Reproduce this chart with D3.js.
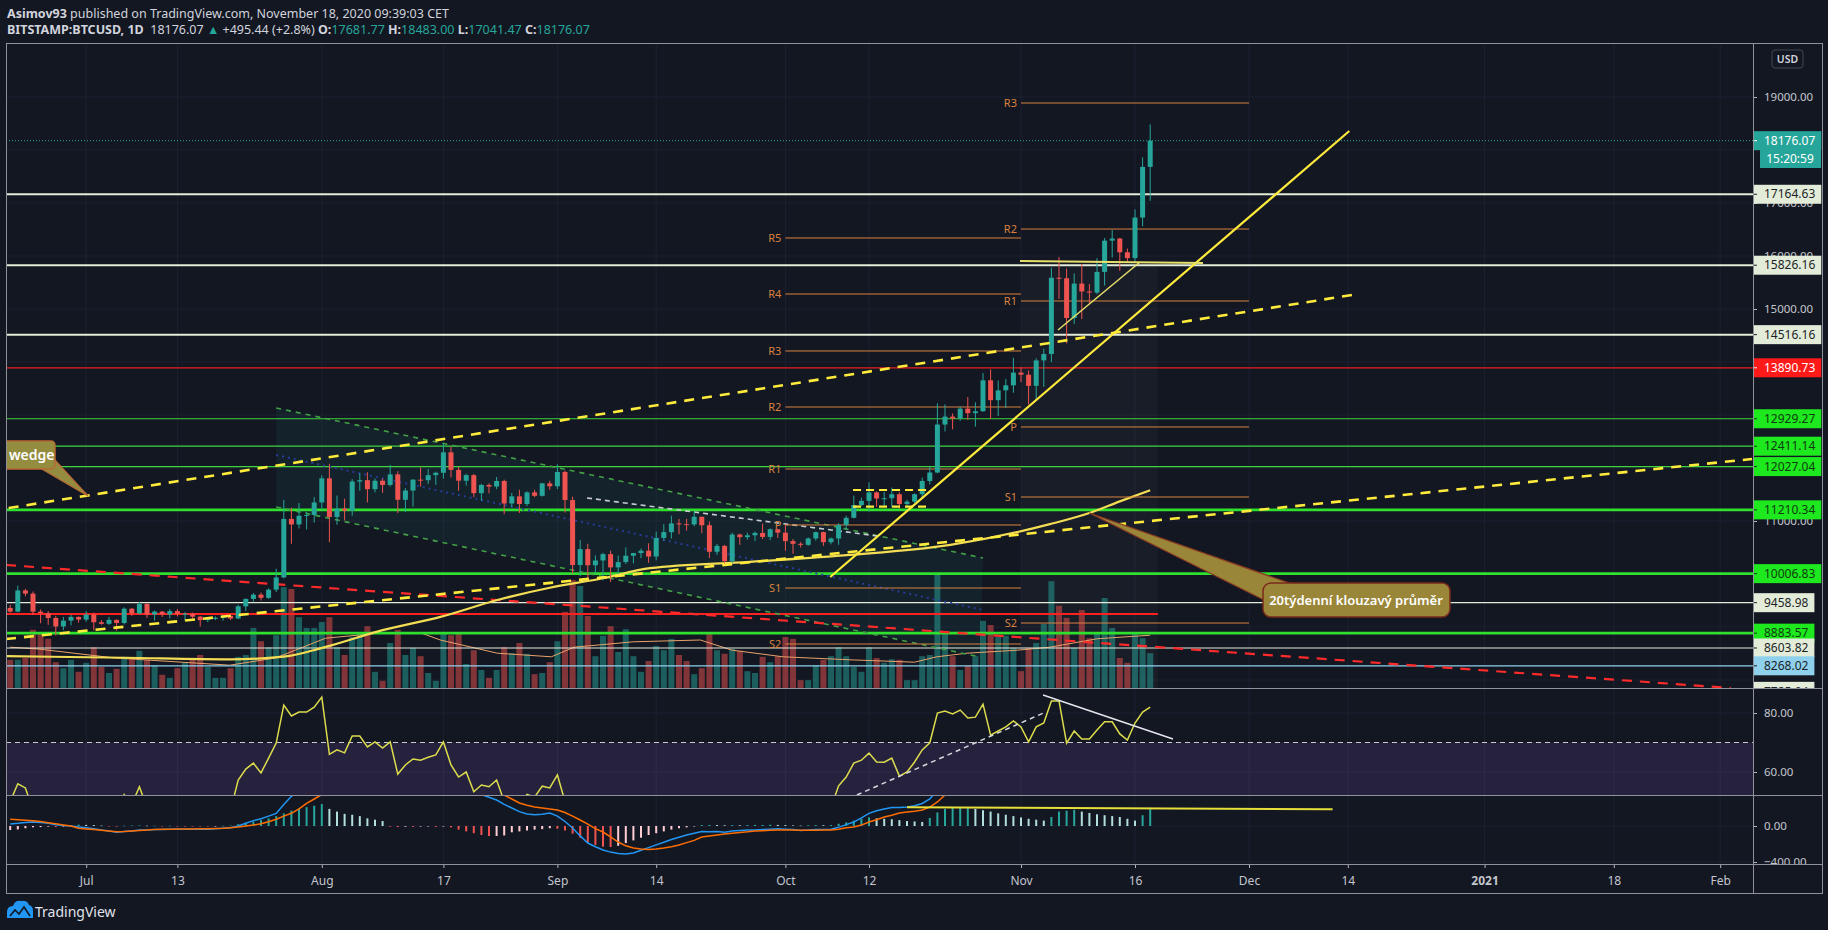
<!DOCTYPE html>
<html>
<head>
<meta charset="utf-8">
<title>BITSTAMP:BTCUSD 1D</title>
<script src="https://cdn.jsdelivr.net/npm/d3@7"></script>
<style>
  html, body { margin: 0; padding: 0; background: #131722; overflow: hidden; }
  svg { display: block; font-family: "Noto Sans", "Open Sans", sans-serif; }
  text { white-space: pre; }
</style>
</head>
<body>
<svg id="chart" width="1828" height="930"></svg>
<script>
// ---------------- data (daily candles from 2020-06-21 to 2020-11-18) ----------------
const firstDay = "2020-06-21";

const opens = [
  9360, 9290, 9690, 9630, 9290, 9260, 9170, 9010, 9120, 9190,
  9140, 9235, 9090, 9060, 9135, 9075, 9345, 9255, 9435, 9235, 9290, 9235, 9300, 9245, 9250, 9195, 9130, 9155, 9175, 9210, 9160, 9390, 9530, 9610, 9550, 9705, 9935, 11040, 10935, 11100, 11115,
  11350, 11805, 11075, 11235, 11195, 11745, 11770, 11600, 11760, 11680, 11880, 11400, 11575, 11780, 11770, 11865, 11910, 12295, 11965, 11760, 11865, 11525, 11680, 11650, 11755, 11330, 11465, 11320, 11540, 11475, 11710,
  11655, 11925, 11395, 10170, 10470, 10165, 10255, 10375, 10125, 10225, 10345, 10395, 10440, 10330, 10680, 10790, 10955, 10940, 10935, 11080, 10920, 10420, 10530, 10240, 10745, 10695, 10730, 10775, 10700, 10845,
  10780, 10620, 10570, 10550, 10670, 10790, 10600, 10670, 10925, 11060, 11300, 11380, 11540, 11425, 11430, 11505, 11320, 11365, 11505, 11755, 11915, 12820, 12970, 12935, 13120, 13035, 13070, 13655, 13280, 13465, 13560,
  13800, 13760, 13550, 14030, 14150, 15590, 15580, 14830, 15480, 15330, 15310, 15700, 16290, 16330, 16070, 15960, 16725, 17681.77
];
const highs = [
  9420, 9780, 9720, 9670, 9330, 9300, 9210, 9190, 9230, 9200,
  9300, 9270, 9130, 9190, 9140, 9370, 9360, 9470, 9450, 9310, 9300, 9340, 9340, 9280, 9270, 9210, 9190, 9200, 9230, 9220, 9420, 9540, 9640, 9650, 9730, 10100, 11400, 11250, 11340, 11170, 11450,
  11860, 12080, 11480, 11420, 11790, 11900, 11920, 11800, 11800, 12060, 11940, 11620, 11790, 12010, 11980, 11930, 12470, 12400, 12020, 11890, 11890, 11700, 11710, 11830, 11780, 11530, 11590, 11560, 11590, 11720, 11760,
  12070, 11950, 11460, 10640, 10570, 10350, 10400, 10440, 10350, 10500, 10400, 10480, 10580, 10800, 10940, 11100, 11040, 11040, 11180, 11080, 10990, 10570, 10550, 10780, 10760, 10780, 10800, 10950, 10860, 10850,
  10930, 10660, 10600, 10690, 10800, 10800, 10690, 10960, 11100, 11480, 11440, 11730, 11560, 11550, 11630, 11540, 11400, 11520, 11820, 12020, 13220, 13200, 13030, 13160, 13340, 13240, 13790, 13860, 13650, 13680, 14080,
  13900, 13840, 14070, 14250, 15780, 15980, 15760, 15670, 15850, 15470, 15960, 16340, 16490, 16340, 16140, 16880, 17860, 18483.00
];
const lows = [
  9270, 9280, 9580, 9230, 9070, 9040, 8840, 8940, 9030, 9080,
  9100, 8940, 9040, 9040, 8930, 9050, 9210, 9240, 9170, 9120, 9190, 9160, 9200, 9120, 9160, 9010, 9090, 9130, 9120, 9130, 9150, 9300, 9480, 9500, 9530, 9660, 9920, 10570, 10860, 10840, 10970,
  11220, 10600, 10930, 11010, 11100, 11570, 11350, 11540, 11530, 11650, 11150, 11170, 11270, 11650, 11700, 11680, 11800, 11820, 11570, 11670, 11450, 11380, 11520, 11600, 11130, 11260, 11150, 11280, 11450, 11460, 11590,
  11600, 11160, 10000, 9960, 9880, 10010, 9880, 9850, 10000, 10190, 10200, 10300, 10210, 10260, 10630, 10670, 10750, 10820, 10900, 10770, 10300, 10360, 10150, 10200, 10550, 10650, 10620, 10660, 10640, 10680,
  10440, 10380, 10500, 10530, 10630, 10530, 10560, 10550, 10830, 11050, 11280, 11180, 11270, 11280, 11260, 11230, 11290, 11340, 11420, 11690, 11900, 12690, 12730, 12890, 12910, 12780, 13060, 12930, 12980, 13130, 13420,
  13620, 13200, 13300, 13530, 14000, 15190, 14350, 14720, 14810, 15100, 15280, 15440, 15970, 15720, 15870, 15880, 16560, 17041.47
];
const closes = [
  9290, 9690, 9630, 9290, 9260, 9170, 9010, 9120, 9190, 9140,
  9235, 9090, 9060, 9135, 9075, 9345, 9255, 9435, 9235, 9290, 9235, 9300, 9245, 9250, 9195, 9130, 9155, 9175, 9210, 9160, 9390, 9530, 9610, 9550, 9705, 9935, 11040, 10935, 11100, 11115, 11350,
  11805, 11075, 11235, 11195, 11745, 11770, 11600, 11760, 11680, 11880, 11400, 11575, 11780, 11770, 11865, 11910, 12295, 11965, 11760, 11865, 11525, 11680, 11650, 11755, 11330, 11465, 11320, 11540, 11475, 11710, 11655,
  11925, 11395, 10170, 10470, 10165, 10255, 10375, 10125, 10225, 10345, 10395, 10440, 10330, 10680, 10790, 10955, 10940, 10935, 11080, 10920, 10420, 10530, 10240, 10745, 10695, 10730, 10775, 10700, 10845, 10780,
  10620, 10570, 10550, 10670, 10790, 10600, 10670, 10925, 11060, 11300, 11380, 11540, 11425, 11430, 11505, 11320, 11365, 11505, 11755, 11915, 12820, 12970, 12935, 13120, 13035, 13070, 13655, 13280, 13465, 13560, 13800,
  13760, 13550, 14030, 14150, 15590, 15580, 14830, 15480, 15330, 15310, 15700, 16290, 16330, 16070, 15960, 16725, 17681.77, 18176.07
];
// volume, thousands of BTC
const volumes = [
  4.7, 4.7, 5.0, 9.7, 9.2, 8.2, 4.3, 3.3, 4.7, 2.7,
  4.2, 6.8, 3.5, 2.5, 3.2, 5.2, 5.0, 6.2, 4.7, 3.8, 2.2, 1.7, 3.3, 4.2, 4.8, 5.5, 3.5, 1.7, 1.7, 3.3, 5.2, 5.5, 10.0, 7.8, 6.8, 8.8, 16.8, 16.5, 11.8, 10.0, 10.0,
  11.0, 11.8, 6.8, 5.5, 8.5, 9.2, 10.3, 2.7, 1.2, 7.5, 9.7, 5.5, 6.7, 5.3, 2.5, 1.2, 9.2, 8.8, 9.2, 4.0, 6.3, 3.0, 1.7, 3.0, 6.8, 5.8, 7.5, 5.7, 2.3, 2.5, 4.3,
  7.8, 12.7, 18.0, 17.0, 12.0, 5.3, 8.7, 10.3, 6.0, 9.8, 5.3, 2.7, 4.5, 7.0, 6.3, 8.2, 5.5, 4.5, 2.3, 3.3, 9.3, 6.3, 5.7, 6.5, 6.2, 2.8, 2.5, 5.2, 4.3, 5.3,
  8.5, 8.2, 1.3, 1.3, 3.8, 4.7, 5.3, 6.8, 5.3, 3.5, 2.7, 6.8, 5.0, 4.2, 4.8, 4.7, 1.3, 1.3, 5.3, 5.5, 19.2, 9.2, 5.3, 3.0, 3.7, 5.3, 11.2, 10.5, 8.5, 8.7, 6.7,
  2.8, 6.7, 7.5, 10.7, 17.8, 13.7, 11.7, 6.7, 13.0, 8.3, 9.2, 15.0, 10.0, 5.0, 4.2, 9.2, 8.3, 5.8
];
const rsi = [
  50, 56, 54.6, 47, 46, 44, 41, 44, 46, 45,
  47, 44, 43, 46, 44, 52.3, 49, 55, 48, 50, 48, 51, 49, 49, 47, 45, 46, 47, 48, 47, 57.3, 61, 63, 59.7, 64.7, 69.8, 82.7, 79, 80.3, 80.3, 82,
  85.4, 66, 67.5, 66.5, 72.2, 72.2, 68.5, 70.2, 68.1, 70.2, 59.3, 62.4, 64.4, 64, 65, 65.8, 70.2, 62.4, 58.3, 60, 53.3, 55.6, 55, 57.3, 50, 51.5, 49, 52.4, 51.5, 55.2, 54.6,
  59, 50, 36, 41, 37, 39, 41, 38, 40, 42, 43, 44, 43, 48, 49, 51, 51, 51, 51, 49, 43, 45, 42, 48, 47, 48, 48, 47, 49, 48,
  46, 45, 45, 47, 49, 46, 48, 55.3, 58.3, 63, 64, 66.4, 63.4, 63.3, 64.7, 58.6, 60, 63.4, 67.5, 69.9, 80, 80.7, 79.7, 81, 78.3, 78.6, 83, 72.5, 73.9, 75.3, 77.3,
  75.3, 70.2, 75.3, 76.6, 84.1, 84.1, 69.8, 73.9, 71.2, 71.2, 74.2, 77, 77, 72.9, 70.8, 76.6, 80.3, 82
];
const macd = [
  22, 30, 40, 44, 38, 30, 15, 5, 0, -10,
  -20, -30, -45, -55, -70, -60, -55, -45, -45, -40, -40, -35, -35, -35, -35, -35, -35, -30, -25, -20, 0, 30, 60, 80, 110, 140, 240, 330, 400, 450, 500,
  560, 560, 560, 550, 570, 580, 570, 570, 560, 560, 520, 500, 490, 480, 470, 470, 490, 480, 450, 430, 390, 350, 320, 289, 240, 200, 160, 133, 125, 130, 144,
  110, 50, -22, -110, -189, -230, -267, -290, -305, -311, -300, -270, -240, -210, -180, -150, -125, -100, -80, -60, -65, -60, -70, -55, -50, -45, -44, -40, -35, -30,
  -35, -40, -50, -45, -40, -40, -35, -15, 15, 44, 90, 140, 170, 190, 205, 205, 211, 225, 250, 300, 400, 480, 540, 590, 620, 640, 690, 700, 710, 720, 740,
  740, 720, 730, 740, 850, 940, 940, 960, 960, 950, 960, 1000, 1030, 1030, 1010, 1050, 1140, 1230
];
const signal = [
  74, 70, 65, 58, 50, 37, 25, 12, 0, -26,
  -32, -40, -48, -56, -63, -60, -55, -50, -45, -40, -37, -35, -34, -33, -32, -31, -30, -28, -25, -19,
  -12, 0, 11, 25, 48, 75, 110, 141, 190, 252, 300, 350,
  390, 420, 440, 460, 480, 495, 505, 512, 520, 520, 515, 510, 505, 500, 495, 495, 490, 480, 470, 450,
  420, 390, 360, 344, 300, 256, 230, 210, 200, 190,
  178, 150, 110, 67, 20, -30, -67, -120, -178,
  -220, -244, -255, -260, -255, -245, -230, -210, -185, -160, -122, -110, -100, -90, -80, -72, -65, -56, -52, -48, -45,
  -44, -44, -48, -47, -46, -45, -44,
  -35, -20, -11, 10, 44, 70, 100, 120, 144, 155, 165, 178, 210, 267, 344, 380,
  420, 470, 510, 550, 590, 620, 640, 660, 680, 690, 700, 710, 740, 780, 810, 840, 860, 880, 900, 920, 940, 960, 970, 980, 1000, 1030
];
const hist = [
  -45, -38, -25, -14, -12, -7, -10, -7, 3, 15,
  12, 10, 4, -2, -7, 3, 5, 6, 3, 3, -3,
  2, -1, -2, -3, -4, -5, -2, 3, 5,
  20, 35, 50, 65, 85, 110, 140, 170, 195, 210, 225, 244,
  190, 160, 135, 125, 110, 85, 70, 55,
  -8, -12, -8, -10, -6, -4, -10, -6, -15,
  -40, -60, -80, -100, -111, -111, -105,
  -70, -60, -50, -40, -35, -25,
  -30, -50, -85, -130, -180, -210, -230, -233, -220,
  -190, -160, -130, -100, -80, -60, -40, -25, -15, -5,
  10, 12, 10, 8, 10, 8, 10, 12, 12, 14, 12, 10, 6, 4, 8, 10, 8, 10,
  25, 40, 60, 80, 95, 85, 80, 75, 65, 55, 50, 45, 90, 150, 190, 200, 203, 205, 190, 175, 160, 140, 125, 110, 95, 80, 70, 60, 100, 160, 170, 180, 160, 145, 130, 120, 110, 100, 80, 60, 120, 200
];

// drawings: [days from 2020-11-01, value]
const sma20w = [[-133.5, 8450], [-118, 8420], [-104, 8390], [-97, 8440], [-91.6, 8620], [-84, 8940], [-76.4, 9190], [-68.9, 9510], [-62, 9740], [-55, 9920], [-48.8, 10110], [-35.7, 10230], [-22.5, 10360], [-9.3, 10550], [3.8, 10940], [9, 11150], [13, 11370], [17, 11580]];
const volumeMA = [[-133, 6.8], [-129.3, 6.5], [-119.2, 5.0], [-104.1, 3.8], [-98.1, 5.0], [-91.5, 8.3], [-84, 9.2], [-79, 9.2], [-76.4, 8.0], [-68.9, 5.8], [-61.8, 5.2], [-58.8, 6.8], [-51, 7.7], [-42.2, 8.0], [-38, 6.3], [-31.3, 5.2], [-22.5, 4.7], [-14, 4.3], [-11.1, 5.2], [-7.1, 5.8], [-0.5, 6.3], [3.8, 6.8], [10, 8.2], [17, 8.8]];
const wedgeUpper = [[-133.2, 11245], [43.55, 15264]];
const wedgeLower = [[-133.55, 8774], [96.2, 12170]];
const steepTrend = [[-25.1, 9943], [43.2, 18358]];
const novSupport = [[4.87, 14604], [15.66, 15887]];
const novShelf = [[-0.13, 15906], [23.95, 15868]];
const channelTop = [[-98, 13132], [-5, 10302]];
const channelBottom = [[-98, 11264], [-5.4, 8434]];
const channelMid = [[-98, 12245], [-5, 9321]];
const greyDash = [[-57.1, 11434], [-18.9, 10717]];
const redDash = [[-133.55, 10170], [93.4, 7849]];
const boxTop = [[-22.1, 11585], [-12, 11585]];
const boxBottom = [[-22.1, 11270], [-12, 11270]];
const redLevel = [[-134, 9245], [18, 9245]];
const novZone = [[0, 15826.16], [18, 7000]];
const rsiDash = [[-21.6, 52.2], [3.3, 80.4]];
const rsiLine = [[2.9, 86.1], [20, 71.2]];
const macdLine = [[-15, 208], [41, 185]];

const levelPrices = [17164.63, 15826.16, 14516.16, 13890.73, 12929.27, 12411.14, 12027.04, 11210.34, 10006.83, 9458.98, 8883.57, 8603.82, 8268.02, 7785.94];
const levelKinds = ["white", "white", "white", "red", "green", "green", "green", "greenBold", "greenBold", "whiteThin", "greenBold", "whiteThin", "blue", "whiteThin"];

const pivotOctNames = ["R5", "R4", "R3", "R2", "R1", "P", "S1", "S2"];
const pivotOctValues = [16340, 15283, 14208, 13151, 11981, 10925, 9736, 8679];
const pivotNovNames = ["R3", "R2", "R1", "P", "S1", "S2"];
const pivotNovValues = [18887, 16509, 15151, 12774, 11453, 9075];

const tickDates = ["2020-07-01", "2020-07-13", "2020-08-01", "2020-08-17", "2020-09-01", "2020-09-14", "2020-10-01", "2020-10-12", "2020-11-01", "2020-11-16", "2020-12-01", "2020-12-14", "2021-01-01", "2021-01-18", "2021-02-01"];
const tickLabels = ["Jul", "13", "Aug", "17", "Sep", "14", "Oct", "12", "Nov", "16", "Dec", "14", "2021", "18", "Feb"];
const priceGrid = [8000, 9000, 10000, 11000, 12000, 13000, 14000, 15000, 16000, 17000, 18000, 19000];
// price tick labels that are not covered by the level labels
const priceTicks = [11000, 15000, 16000, 17000, 19000];
const rsiTicks = [60, 80];
const macdTicks = [-400, 0];

// ---------------- layout ----------------
const paneLeft = 6, paneRight = 1753, axisRight = 1822;
const paneTop = 43, mainBottom = 688, rsiBottom = 795, macdBottom = 864, timeBottom = 893;
const up = "#26a69a", down = "#ef5350";

const levelStyle = {
  white:     { line: "#e3ecd9", width: 2,   bg: "#e3ecd9", fg: "#1c1f26" },
  whiteThin: { line: "#e3ecd9", width: 1.2, bg: "#e3ecd9", fg: "#1c1f26" },
  red:       { line: "#e8201e", width: 1.2, bg: "#ff1a1a", fg: "#ffffff" },
  green:     { line: "#3fd43f", width: 1.2, bg: "#1ee81e", fg: "#0f3d0f" },
  greenBold: { line: "#2fe02f", width: 2.6, bg: "#1ee81e", fg: "#0f3d0f" },
  blue:      { line: "#8fd0ec", width: 1.2, bg: "#8fd0ec", fg: "#1c1f26" }
};

const svg = d3.select("#chart");
const defs = svg.append("defs");
function clip(id, x0, y0, w, h) {
  defs.append("clipPath").attr("id", id)
    .append("rect").attr("x", x0).attr("y", y0).attr("width", w).attr("height", h);
}
clip("mainClip", paneLeft, paneTop, paneRight - paneLeft, mainBottom - paneTop);
clip("rsiClip", paneLeft, mainBottom, paneRight - paneLeft, rsiBottom - mainBottom);
clip("macdClip", paneLeft, rsiBottom, paneRight - paneLeft, macdBottom - rsiBottom);
clip("mainAxisClip", paneRight, paneTop, axisRight - paneRight, mainBottom - paneTop);
clip("macdAxisClip", paneRight, rsiBottom, axisRight - paneRight, macdBottom - rsiBottom);

const nov1 = new Date(Date.UTC(2020, 10, 1));
const x = d3.scaleUtc().domain([nov1, new Date(Date.UTC(2020, 11, 1))]).range([1021, 1249]);
const y = d3.scaleLinear().domain([11000, 19000]).range([521, 97]);
const yVol = d3.scaleLinear().domain([0, 20]).range([mainBottom, 568]);
const yRsi = d3.scaleLinear().domain([60, 80]).range([772, 713]);
const yMacd = d3.scaleLinear().domain([-400, 0]).range([862, 826]);

const at = d => new Date(nov1.getTime() + d * 864e5);
const start = new Date(firstDay + "T00:00:00Z");
const dates = closes.map((_, i) => d3.utcDay.offset(start, i));
const ticks = tickDates.map(s => new Date(s + "T00:00:00Z"));

const lineOf = (ys) => d3.line().x(p => x(at(p[0]))).y(p => ys(p[1]));

// ---------------- background & grid ----------------
svg.append("rect").attr("width", 1828).attr("height", 930).attr("fill", "#131722");

const grid = svg.append("g").attr("stroke", "#1d2130").attr("stroke-width", 1);
grid.selectAll(".vg").data(ticks).join("line")
  .attr("x1", d => x(d)).attr("x2", d => x(d)).attr("y1", paneTop).attr("y2", macdBottom);
grid.selectAll(".hg").data(priceGrid).join("line")
  .attr("x1", paneLeft).attr("x2", paneRight).attr("y1", d => y(d)).attr("y2", d => y(d))
  .attr("clip-path", "url(#mainClip)");
grid.selectAll(".rg").data(rsiTicks).join("line")
  .attr("x1", paneLeft).attr("x2", paneRight).attr("y1", d => yRsi(d)).attr("y2", d => yRsi(d));
grid.selectAll(".mg").data(macdTicks).join("line")
  .attr("x1", paneLeft).attr("x2", paneRight).attr("y1", d => yMacd(d)).attr("y2", d => yMacd(d))
  .attr("clip-path", "url(#macdClip)");

// ---------------- main pane ----------------
const main = svg.append("g").attr("clip-path", "url(#mainClip)");

// channel fill and November zone
main.append("path")
  .attr("d", lineOf(y)([channelTop[0], channelTop[1], channelBottom[1], channelBottom[0]]) + "Z")
  .attr("fill", "rgba(38,166,154,0.08)");
main.append("rect")
  .attr("x", x(at(novZone[0][0]))).attr("width", x(at(novZone[1][0])) - x(at(novZone[0][0])))
  .attr("y", y(novZone[0][1])).attr("height", y(novZone[1][1]) - y(novZone[0][1]))
  .attr("fill", "rgba(255,255,255,0.028)");

// volume
main.selectAll(".vol").data(volumes).join("rect")
  .attr("x", (d, i) => x(dates[i]) - 3).attr("width", 6)
  .attr("y", d => yVol(d)).attr("height", d => mainBottom - yVol(d))
  .attr("fill", (d, i) => closes[i] >= opens[i] ? up : down)
  .attr("opacity", 0.5);
main.append("path").attr("d", lineOf(yVol)(volumeMA))
  .attr("fill", "none").attr("stroke", "#e8a26a").attr("stroke-width", 1);

// horizontal levels
levelPrices.forEach((p, i) => {
  const s = levelStyle[levelKinds[i]];
  main.append("line").attr("x1", paneLeft).attr("x2", paneRight).attr("y1", y(p)).attr("y2", y(p))
    .attr("stroke", s.line).attr("stroke-width", s.width);
});
main.append("path").attr("d", lineOf(y)(redLevel))
  .attr("stroke", "#ff2020").attr("stroke-width", 2).attr("fill", "none");

// last price dotted
const last = closes[closes.length - 1];
main.append("line").attr("x1", paneLeft).attr("x2", paneRight)
  .attr("y1", y(last)).attr("y2", y(last))
  .attr("stroke", up).attr("stroke-width", 1).attr("stroke-dasharray", "1,2");

// channel lines
const drawLine = (data, color, width, dash) => main.append("path")
  .attr("d", lineOf(y)(data)).attr("fill", "none")
  .attr("stroke", color).attr("stroke-width", width)
  .attr("stroke-dasharray", dash || null);
drawLine(channelTop, "#43a047", 1.6, "5,5");
drawLine(channelBottom, "#43a047", 1.6, "5,5");
drawLine(channelMid, "#283a9a", 2, "2,4");
drawLine(greyDash, "#c9cbd2", 1.6, "5,4");
drawLine(redDash, "#ff2a2a", 2.2, "10,8");

// 20-week SMA
main.append("path").attr("d", lineOf(y).curve(d3.curveMonotoneX)(sma20w))
  .attr("fill", "none").attr("stroke", "#f2dd55").attr("stroke-width", 2.2);

// pivots
function pivots(names, values, d0, d1) {
  const g = main.append("g");
  values.forEach((v, i) => {
    g.append("line").attr("x1", x(at(d0))).attr("x2", x(at(d1)))
      .attr("y1", y(v)).attr("y2", y(v)).attr("stroke", "#d9823f").attr("stroke-width", 1);
    g.append("text").attr("x", x(at(d0)) - 4).attr("y", y(v)).attr("dy", "0.35em")
      .attr("text-anchor", "end").attr("font-size", 11).attr("fill", "#d9823f").text(names[i]);
  });
}
pivots(pivotOctNames, pivotOctValues, -31, 0);
pivots(pivotNovNames, pivotNovValues, 0, 30);

// candles
const candles = main.append("g");
candles.selectAll(".wick").data(closes).join("line")
  .attr("x1", (d, i) => x(dates[i])).attr("x2", (d, i) => x(dates[i]))
  .attr("y1", (d, i) => y(highs[i])).attr("y2", (d, i) => y(lows[i]))
  .attr("stroke", (d, i) => d >= opens[i] ? up : down).attr("stroke-width", 1);
candles.selectAll(".body").data(closes).join("rect")
  .attr("x", (d, i) => x(dates[i]) - 2.5).attr("width", 5)
  .attr("y", (d, i) => y(Math.max(d, opens[i])))
  .attr("height", (d, i) => Math.max(1, Math.abs(y(d) - y(opens[i]))))
  .attr("fill", (d, i) => d >= opens[i] ? up : down);

// trend lines
drawLine(wedgeUpper, "#ffeb3b", 2.6, "10,8");
drawLine(wedgeLower, "#ffeb3b", 2.6, "10,8");
drawLine(boxTop, "#ffeb3b", 2.2, "8,5");
drawLine(boxBottom, "#ffeb3b", 2.2, "8,5");
drawLine(steepTrend, "#ffeb3b", 2.2);
drawLine(novSupport, "#e6df6a", 1.5);
drawLine(novShelf, "#e6df6a", 1.8);

// callouts
const callouts = svg.append("g").attr("clip-path", "url(#mainClip)");
callouts.append("path").attr("d", "M40,468 L88,496 L55,460 Z")
  .attr("fill", "#948c3e").attr("stroke", "#b86a35").attr("stroke-width", 1.2);
callouts.append("rect").attr("x", 0).attr("y", 441).attr("width", 55).attr("height", 28).attr("rx", 4)
  .attr("fill", "#948c3e").attr("stroke", "#b86a35").attr("stroke-width", 1.5);
callouts.append("text").attr("x", 9).attr("y", 460).attr("font-size", 14).attr("font-weight", 600)
  .attr("fill", "#ffffff").text("wedge");

const tip = [x(at(9)), y(11150)];
callouts.append("path").attr("d", `M1266,601 L${tip[0]},${tip[1]} L1292,584 Z`)
  .attr("fill", "#9a8638").attr("stroke", "#8a3a22").attr("stroke-width", 1.2);
callouts.append("rect").attr("x", 1263).attr("y", 583).attr("width", 187).attr("height", 34).attr("rx", 8)
  .attr("fill", "#9a8638").attr("stroke", "#7a2a1a").attr("stroke-width", 1.5);
callouts.append("text").attr("x", 1356).attr("y", 605).attr("text-anchor", "middle")
  .attr("font-size", 13).attr("font-weight", 600).attr("fill", "#ffffff").text("20týdenní klouzavý průměr");

// ---------------- RSI pane ----------------
const rsiG = svg.append("g").attr("clip-path", "url(#rsiClip)");
rsiG.append("rect").attr("x", paneLeft).attr("width", paneRight - paneLeft)
  .attr("y", yRsi(70)).attr("height", yRsi(30) - yRsi(70)).attr("fill", "rgba(126,87,194,0.18)");
rsiG.append("line").attr("x1", paneLeft).attr("x2", paneRight).attr("y1", yRsi(70)).attr("y2", yRsi(70))
  .attr("stroke", "#c8cad0").attr("stroke-dasharray", "5,4").attr("stroke-width", 1);
rsiG.append("path").attr("d", d3.line().x((d, i) => x(dates[i])).y(d => yRsi(d))(rsi))
  .attr("fill", "none").attr("stroke", "#dcdc4c").attr("stroke-width", 1.5);
rsiG.append("path").attr("d", lineOf(yRsi)(rsiDash)).attr("fill", "none")
  .attr("stroke", "#d6d8de").attr("stroke-width", 1.5).attr("stroke-dasharray", "5,4");
rsiG.append("path").attr("d", lineOf(yRsi)(rsiLine)).attr("fill", "none")
  .attr("stroke", "#e4e6ea").attr("stroke-width", 1.5);

// ---------------- MACD pane ----------------
const macdG = svg.append("g").attr("clip-path", "url(#macdClip)");
macdG.selectAll(".h").data(hist).join("rect")
  .attr("x", (d, i) => x(dates[i]) - 1).attr("width", 2)
  .attr("y", d => Math.min(yMacd(d), yMacd(0)))
  .attr("height", d => Math.max(0.5, Math.abs(yMacd(d) - yMacd(0))))
  .attr("fill", (d, i) => {
    const prev = i > 0 ? hist[i - 1] : d;
    if (d >= 0) return d >= prev ? "#26a69a" : "#b2dfdb";
    return d < prev ? "#ef5350" : "#ffcdd2";
  });
const seriesLine = d3.line().x((d, i) => x(dates[i])).y(d => yMacd(d));
macdG.append("path").attr("d", seriesLine(macd)).attr("fill", "none").attr("stroke", "#2196f3").attr("stroke-width", 1.5);
macdG.append("path").attr("d", seriesLine(signal)).attr("fill", "none").attr("stroke", "#ff6d00").attr("stroke-width", 1.5);
macdG.append("path").attr("d", lineOf(yMacd)(macdLine)).attr("fill", "none").attr("stroke", "#e6df3a").attr("stroke-width", 2);

// ---------------- axes ----------------
function styleAxis(g) {
  g.select(".domain").remove();
  g.selectAll("line").attr("stroke", "#b2b5be");
  g.selectAll("text").attr("fill", "#c3c6ce").attr("font-size", 11.5).attr("font-family", "Noto Sans, sans-serif");
}
svg.append("g").attr("clip-path", "url(#mainAxisClip)")
  .append("g").attr("transform", `translate(${paneRight},0)`)
  .call(d3.axisRight(y).tickValues(priceTicks).tickFormat(d3.format(".2f")).tickSize(4).tickPadding(7))
  .call(styleAxis);
svg.append("g").attr("transform", `translate(${paneRight},0)`)
  .call(d3.axisRight(yRsi).tickValues(rsiTicks).tickFormat(d3.format(".2f")).tickSize(4).tickPadding(7))
  .call(styleAxis);
svg.append("g").attr("clip-path", "url(#macdAxisClip)")
  .append("g").attr("transform", `translate(${paneRight},0)`)
  .call(d3.axisRight(yMacd).tickValues(macdTicks).tickFormat(d3.format(".2f")).tickSize(4).tickPadding(7))
  .call(styleAxis);
const timeAxis = svg.append("g").attr("transform", `translate(0,${macdBottom})`)
  .call(d3.axisBottom(x).tickValues(ticks).tickFormat((d, i) => tickLabels[i]).tickSize(4).tickPadding(8))
  .call(styleAxis);
timeAxis.selectAll("text").attr("font-size", 12)
  .attr("font-weight", (d, i) => tickLabels[i] === "2021" ? 700 : 400);

// price labels on the axis
const labels = svg.append("g").attr("clip-path", "url(#mainAxisClip)");
function priceLabel(yy, text, bg, fg, x0) {
  const g = labels.append("g");
  const r = g.append("rect").attr("x", x0).attr("y", yy - 9.5).attr("height", 19).attr("fill", bg);
  const t = g.append("text").attr("x", x0 + 11).attr("y", yy).attr("dy", "0.35em")
    .attr("font-size", 12).attr("fill", fg).text(text);
  const w = t.node().getComputedTextLength();
  r.attr("width", Math.min(axisRight - x0, w + 17));
  g.append("line").attr("x1", x0).attr("x2", x0 + 4).attr("y1", yy).attr("y2", yy)
    .attr("stroke", fg).attr("stroke-width", 1);
}
levelPrices.forEach((p, i) => {
  const s = levelStyle[levelKinds[i]];
  priceLabel(y(p), d3.format(".2f")(p), s.bg, s.fg, paneRight);
});
priceLabel(y(last), d3.format(".2f")(last), up, "#ffffff", paneRight);
labels.append("rect").attr("x", 1760).attr("y", 150).attr("width", 61).attr("height", 18).attr("fill", up);
labels.append("text").attr("x", 1790).attr("y", 159).attr("dy", "0.35em").attr("text-anchor", "middle")
  .attr("font-size", 12).attr("fill", "#ffffff").text("15:20:59");

// USD badge
svg.append("rect").attr("x", 1772).attr("y", 50).attr("width", 31).attr("height", 18).attr("rx", 3)
  .attr("fill", "#131722").attr("stroke", "#434651");
svg.append("text").attr("x", 1787.5).attr("y", 59).attr("dy", "0.35em").attr("text-anchor", "middle")
  .attr("font-size", 10.5).attr("font-weight", 600).attr("fill", "#d1d4dc").text("USD");

// ---------------- frame ----------------
const frame = svg.append("g").attr("stroke", "#8f929b").attr("stroke-width", 1).attr("fill", "none");
frame.append("rect").attr("x", paneLeft + 0.5).attr("y", paneTop + 0.5).attr("width", axisRight - paneLeft).attr("height", timeBottom - paneTop);
[mainBottom, rsiBottom, macdBottom].forEach(v => frame.append("line")
  .attr("x1", paneLeft).attr("x2", axisRight).attr("y1", v + 0.5).attr("y2", v + 0.5));
frame.append("line").attr("x1", paneRight + 0.5).attr("x2", paneRight + 0.5).attr("y1", paneTop).attr("y2", timeBottom);

// ---------------- header ----------------
const header = svg.append("g").attr("font-size", 12.5).attr("fill", "#d1d4dc");
const l1 = header.append("text").attr("x", 7).attr("y", 18);
l1.append("tspan").attr("font-weight", 700).text("Asimov93");
l1.append("tspan").text(" published on TradingView.com, November 18, 2020 09:39:03 CET");
const l2 = header.append("text").attr("x", 7).attr("y", 34);
const parts = [
  ["BITSTAMP:BTCUSD, 1D", 700, "#d1d4dc"], ["  18176.07 ", 400, "#d1d4dc"], ["▲", 400, up],
  [" +495.44 (+2.8%) ", 400, "#d1d4dc"], ["O:", 700, "#d1d4dc"], ["17681.77", 400, up],
  [" H:", 700, "#d1d4dc"], ["18483.00", 400, up], [" L:", 700, "#d1d4dc"], ["17041.47", 400, up],
  [" C:", 700, "#d1d4dc"], ["18176.07", 400, up]
];
parts.forEach(p => l2.append("tspan").attr("font-weight", p[1]).attr("fill", p[2]).text(p[0]));

// ---------------- footer logo ----------------
const logo = svg.append("g");
logo.append("path").attr("d", "M7,918 L7,912 Q7,906 13,906 Q15,900 21,901 Q27,900 29,905 Q33,906 33,911 L33,918 Z")
  .attr("fill", "#2196f3");
logo.append("path").attr("d", "M10,916 L15,910 L19,914 L24,907 L30,916")
  .attr("fill", "none").attr("stroke", "#131722").attr("stroke-width", 1.6);
logo.append("text").attr("x", 35).attr("y", 917).attr("font-size", 14).attr("fill", "#e0e3eb").text("TradingView");
</script>
</body>
</html>
